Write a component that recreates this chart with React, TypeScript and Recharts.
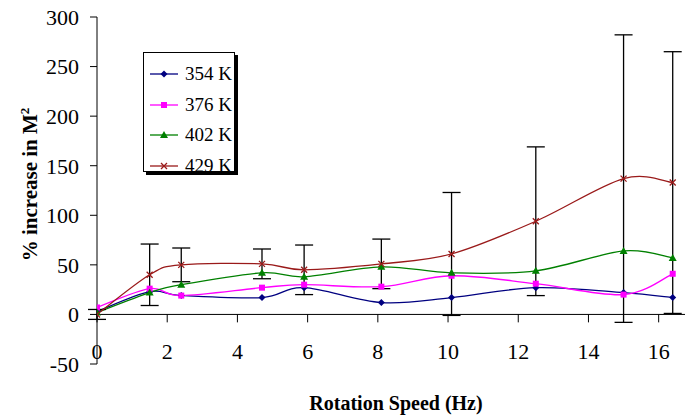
import React from "react";
import { LineChart, Line, XAxis, YAxis, ErrorBar, ReferenceLine } from "recharts";

// rotation speed (Hz) for every measurement
const speed = [0, 1.5, 2.4, 4.7, 5.9, 8.1, 10.1, 12.5, 15, 16.4];

// % increase in M^2 per temperature
const k354 = [3, 23, 19, 17, 27, 12, 17, 27, 22, 17];
const k376 = [7, 26, 19, 27, 30, 28, 39, 31, 20, 41];
const k402 = [2, 22, 30, 42, 38, 48, 42, 44, 64, 57];
const k429 = [0, 40, 50, 51, 45, 51, 61, 94, 137, 133];
const err429 = [5, 31, 17, 15, 25, 25, 62, 75, 145, 132];

const xTicks = [0, 2, 4, 6, 8, 10, 12, 14, 16];
const yTicks = [-50, 0, 50, 100, 150, 200, 250, 300];

const data = speed.map((s, i) => ({
  speed: s,
  k354: k354[i],
  k376: k376[i],
  k402: k402[i],
  k429: k429[i],
  err429: err429[i],
}));

const FONT = "'Liberation Serif', 'Times New Roman', serif";

const SERIES = [
  { key: "k354", name: "354 K", color: "#000080", marker: "diamond" },
  { key: "k376", name: "376 K", color: "#ff00ff", marker: "square" },
  { key: "k402", name: "402 K", color: "#008000", marker: "triangle" },
  { key: "k429", name: "429 K", color: "#9a1a1a", marker: "cross" },
];

// smoothed line like the spreadsheet one (catmull-rom through the points)
function smoothCurve(context: any) {
  let pts: number[][] = [];
  return {
    areaStart() {},
    areaEnd() {},
    lineStart() {
      pts = [];
    },
    point(x: number, y: number) {
      pts.push([+x, +y]);
    },
    lineEnd() {
      if (!pts.length) return;
      context.moveTo(pts[0][0], pts[0][1]);
      for (let i = 0; i < pts.length - 1; i++) {
        const p0 = pts[Math.max(0, i - 1)];
        const p1 = pts[i];
        const p2 = pts[i + 1];
        const p3 = pts[Math.min(pts.length - 1, i + 2)];
        context.bezierCurveTo(
          p1[0] + (p2[0] - p0[0]) / 6,
          p1[1] + (p2[1] - p0[1]) / 6,
          p2[0] - (p3[0] - p1[0]) / 6,
          p2[1] - (p3[1] - p1[1]) / 6,
          p2[0],
          p2[1]
        );
      }
    },
  };
}

function Marker({ type, cx, cy, color }: { type: string; cx: number; cy: number; color: string }) {
  if (type === "diamond")
    return <path d={`M${cx},${cy - 3.5}L${cx + 3.5},${cy}L${cx},${cy + 3.5}L${cx - 3.5},${cy}Z`} fill={color} />;
  if (type === "square") return <rect x={cx - 3} y={cy - 3} width={6} height={6} fill={color} />;
  if (type === "triangle")
    return <path d={`M${cx},${cy - 4}L${cx + 4},${cy + 3}L${cx - 4},${cy + 3}Z`} fill={color} />;
  return (
    <path
      d={`M${cx - 3},${cy - 3}L${cx + 3},${cy + 3}M${cx - 3},${cy + 3}L${cx + 3},${cy - 3}`}
      stroke={color}
      strokeWidth={1.3}
    />
  );
}

const XTick = (props: any) => {
  const { x, y, payload } = props;
  return (
    <text x={x} y={y - 5} textAnchor="middle" fontFamily={FONT} fontSize={22} fill="#000">
      {payload.value}
    </text>
  );
};

const YTitle = (props: any) => {
  const { viewBox } = props;
  const cx = viewBox.x + viewBox.width - 60;
  const cy = viewBox.y + viewBox.height / 2 - 6;
  return (
    <text
      x={cx}
      y={cy}
      transform={`rotate(-90, ${cx}, ${cy})`}
      textAnchor="middle"
      fontFamily={FONT}
      fontSize={21}
      fontWeight="bold"
      fill="#000"
    >
      <tspan>% increase in M</tspan>
      <tspan dy={-8} fontSize={13}>
        2
      </tspan>
    </text>
  );
};

function LegendBox() {
  return (
    <div
      style={{
        position: "absolute",
        left: 143,
        top: 52,
        width: 92,
        height: 120,
        border: "1px solid #000",
        background: "#fff",
        boxShadow: "3px 3px 0 #000",
        fontFamily: FONT,
        fontSize: 19,
        paddingTop: 6,
        boxSizing: "border-box",
      }}
    >
      {SERIES.map((s) => (
        <div key={s.key} style={{ display: "flex", alignItems: "center", height: 30.5 }}>
          <svg width={36} height={14} style={{ marginLeft: 5 }}>
            <line x1={1} y1={7} x2={29} y2={7} stroke={s.color} strokeWidth={1.3} />
            <Marker type={s.marker} cx={15} cy={7} color={s.color} />
          </svg>
          <span>{s.name}</span>
        </div>
      ))}
    </div>
  );
}

export default function App() {
  return (
    <div style={{ position: "absolute", left: 0, top: 0, width: 685, height: 418, background: "#fff" }}>
      <LineChart width={685} height={418} data={data} margin={{ top: 17, right: 0, bottom: 0, left: 77 }}>
        <XAxis
          dataKey="speed"
          type="number"
          domain={[0, 16.75]}
          ticks={xTicks}
          axisLine={false}
          tickLine={false}
          tickSize={0}
          tickMargin={0}
          height={54}
          tick={<XTick />}
          interval={0}
          allowDataOverflow
          label={{
            value: "Rotation Speed (Hz)",
            position: "insideBottom",
            offset: 8,
            dx: 5,
            fontFamily: FONT,
            fontSize: 20,
            fontWeight: "bold",
            fill: "#000",
          }}
        />
        <YAxis
          type="number"
          domain={[-50, 300]}
          ticks={yTicks}
          width={20}
          interval={0}
          axisLine={{ stroke: "#000" }}
          tickLine={{ stroke: "#000" }}
          tickSize={7}
          tickMargin={11}
          tick={{ fontFamily: FONT, fontSize: 22, fill: "#000" }}
          label={<YTitle />}
        />
        <ReferenceLine y={0} stroke="#000" strokeWidth={1} />
        {xTicks.map((t) => (
          <ReferenceLine
            key={t}
            segment={[
              { x: t, y: 0 },
              { x: t, y: -8 },
            ]}
            stroke="#000"
            strokeWidth={1}
          />
        ))}
        {SERIES.map((s) => (
          <Line
            key={s.key}
            dataKey={s.key}
            name={s.name}
            type={smoothCurve as any}
            stroke={s.color}
            strokeWidth={1.3}
            isAnimationActive={false}
            dot={(p: any) => <Marker key={`${s.key}-${p.index}`} type={s.marker} cx={p.cx} cy={p.cy} color={s.color} />}
            activeDot={false}
          >
            {s.key === "k429" ? (
              <ErrorBar dataKey="err429" direction="y" width={9} stroke="#000" strokeWidth={1.3} />
            ) : null}
          </Line>
        ))}
      </LineChart>
      <LegendBox />
    </div>
  );
}
